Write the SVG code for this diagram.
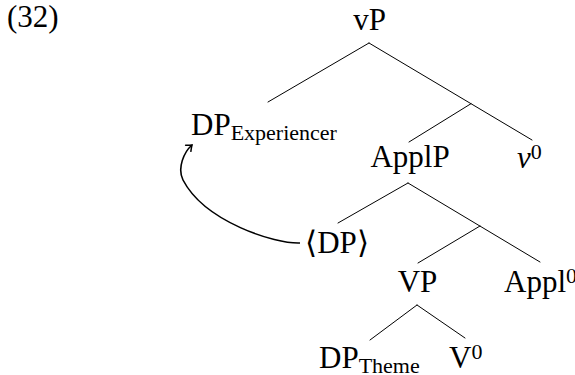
<svg xmlns="http://www.w3.org/2000/svg" width="575" height="375" viewBox="0 0 575 375">
<defs>
<style>
text{font-family:'Liberation Serif',serif;font-size:31px;fill:#000}
.sub{font-size:22px}
.it{font-style:italic}
.br{font-family:'Noto Serif',serif}
.edge{stroke:#000;stroke-width:1;fill:none;stroke-linecap:round}
.mv{stroke:#000;stroke-width:1.6;fill:none}
</style>
<marker id="tip" viewBox="-6 -5 8 10" markerWidth="8" markerHeight="10" refX="0" refY="0" orient="auto" markerUnits="userSpaceOnUse">
<path d="M-5,-4 Q-1.5,-1 0,0 Q-1.5,1 -5,4" fill="none" stroke="#000" stroke-width="1.5" stroke-linecap="round"/>
</marker>
</defs>
<rect width="575" height="375" fill="#fff"/>
<g id="label">
<text x="7" y="27">(32)</text>
</g>
<g id="connectors">
<line class="edge" x1="369" y1="43" x2="268" y2="102"/>
<line class="edge" x1="369" y1="43" x2="532" y2="140"/>
<line class="edge" x1="471" y1="103.7" x2="409" y2="142"/>
<line class="edge" x1="408" y1="183" x2="338" y2="223"/>
<line class="edge" x1="408" y1="183" x2="540" y2="262"/>
<line class="edge" x1="480" y1="226" x2="418" y2="263"/>
<line class="edge" x1="417" y1="305" x2="370" y2="340"/>
<line class="edge" x1="417" y1="305" x2="465" y2="338"/>
<path class="mv" d="M300,243 C275,244 205,222 183,180 C177,168 184,152 192,145" marker-end="url(#tip)"/>
</g>
<g id="vP">
<text x="369.5" y="30" text-anchor="middle">vP</text>
</g>
<g id="DP-exp">
<text x="191" y="135">DP<tspan class="sub" dy="4.5">Experiencer</tspan></text>
</g>
<g id="ApplP">
<text x="410" y="167" text-anchor="middle">ApplP</text>
</g>
<g id="v0">
<text x="517" y="168"><tspan class="it">v</tspan><tspan class="sub" dy="-9">0</tspan></text>
</g>
<g id="DP-trace">
<text x="337" y="253" text-anchor="middle"><tspan class="br">⟨</tspan>DP<tspan class="br">⟩</tspan></text>
</g>
<g id="VP">
<text x="417.5" y="292" text-anchor="middle">VP</text>
</g>
<g id="Appl0">
<text x="504" y="292">Appl<tspan class="sub" dy="-9">0</tspan></text>
</g>
<g id="DP-theme">
<text x="319" y="368">DP<tspan class="sub" dy="4.5">Theme</tspan></text>
</g>
<g id="V0">
<text x="449" y="368">V<tspan class="sub" dy="-9">0</tspan></text>
</g>
</svg>
